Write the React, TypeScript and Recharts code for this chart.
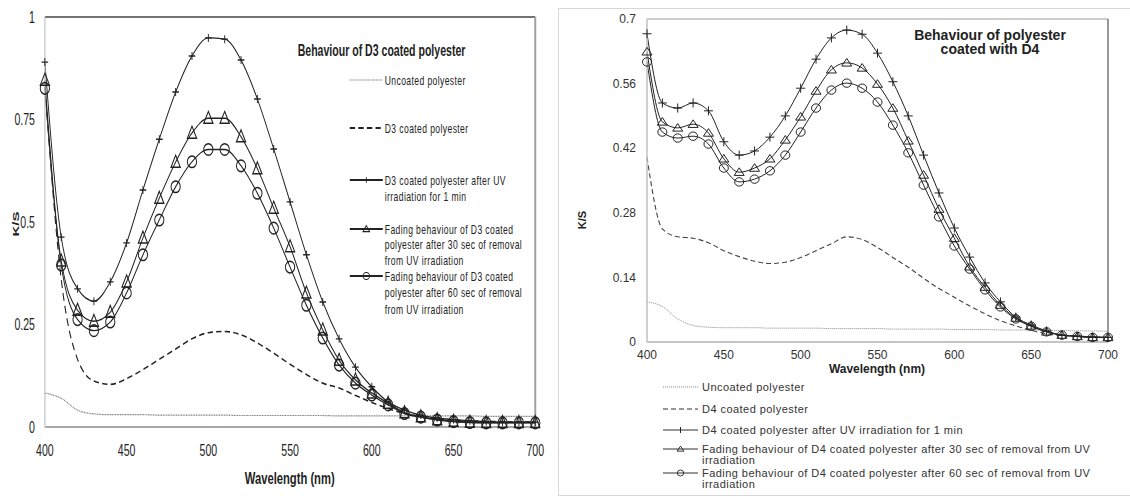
import React from 'react';
import { Line, LineChart, ReferenceLine, XAxis, YAxis } from 'recharts';

const WAVELENGTHS = [
  400, 410, 420, 430, 440, 450, 460, 470, 480, 490, 500, 510, 520, 530, 540, 550,
  560, 570, 580, 590, 600, 610, 620, 630, 640, 650, 660, 670, 680, 690, 700,
];
const X_TICKS = [400, 450, 500, 550, 600, 650, 700];
const D3_Y_TICKS = [0, 0.25, 0.5, 0.75, 1];
const D4_Y_TICKS = [0, 0.14, 0.28, 0.42, 0.56, 0.7];

// D3 coated polyester (left panel)
const d3Uncoated = [
  0.083, 0.07, 0.041, 0.032, 0.03, 0.03, 0.03, 0.029, 0.029, 0.029, 0.029, 0.029, 0.028, 0.028, 0.028, 0.028,
  0.028, 0.028, 0.027, 0.027, 0.027, 0.027, 0.027, 0.027, 0.027, 0.027, 0.027, 0.026, 0.026, 0.026, 0.026,
];
const d3Coated = [
  0.83, 0.36, 0.165, 0.112, 0.104, 0.118, 0.14, 0.165, 0.19, 0.215, 0.23, 0.233, 0.225, 0.205, 0.18, 0.153,
  0.128, 0.107, 0.095, 0.077, 0.06, 0.045, 0.033, 0.026, 0.02, 0.017, 0.015, 0.014, 0.013, 0.012, 0.012,
];
const d3Uv1min = [
  0.89, 0.463, 0.337, 0.307, 0.354, 0.449, 0.578, 0.702, 0.817, 0.905, 0.949, 0.946, 0.895, 0.8, 0.678, 0.549,
  0.42, 0.305, 0.215, 0.146, 0.098, 0.061, 0.041, 0.029, 0.022, 0.018, 0.015, 0.013, 0.012, 0.012, 0.012,
];
const d3Fade30 = [
  0.846, 0.405, 0.285, 0.258, 0.28, 0.354, 0.461, 0.558, 0.646, 0.717, 0.753, 0.753, 0.708, 0.63, 0.534, 0.44,
  0.327, 0.237, 0.163, 0.115, 0.083, 0.058, 0.035, 0.025, 0.018, 0.014, 0.012, 0.011, 0.011, 0.011, 0.011,
];
const d3Fade60 = [
  0.826, 0.395, 0.262, 0.235, 0.256, 0.327, 0.42, 0.505, 0.586, 0.647, 0.677, 0.677, 0.637, 0.57, 0.485, 0.39,
  0.297, 0.217, 0.151, 0.107, 0.078, 0.054, 0.033, 0.024, 0.017, 0.013, 0.011, 0.01, 0.01, 0.01, 0.01,
];

// polyester coated with D4 (right panel)
const d4Uncoated = [
  0.087, 0.077, 0.05, 0.036, 0.032, 0.031, 0.031, 0.031, 0.03, 0.03, 0.03, 0.03, 0.029, 0.029, 0.029, 0.029,
  0.028, 0.028, 0.028, 0.028, 0.027, 0.027, 0.027, 0.026, 0.026, 0.026, 0.025, 0.025, 0.024, 0.024, 0.023,
];
const d4Coated = [
  0.4, 0.245, 0.228, 0.225, 0.215, 0.198, 0.185, 0.175, 0.17, 0.173, 0.183, 0.198, 0.213, 0.228, 0.222, 0.205,
  0.183, 0.162, 0.138, 0.116, 0.097, 0.078, 0.061, 0.046, 0.035, 0.025, 0.018, 0.014, 0.012, 0.011, 0.01,
];
const d4Uv1min = [
  0.668, 0.518, 0.507, 0.518, 0.501, 0.434, 0.405, 0.414, 0.444, 0.49, 0.55, 0.613, 0.659, 0.676, 0.667, 0.626,
  0.564, 0.49, 0.405, 0.323, 0.247, 0.184, 0.128, 0.087, 0.054, 0.037, 0.024, 0.015, 0.013, 0.011, 0.01,
];
const d4Fade30 = [
  0.629, 0.477, 0.464, 0.472, 0.453, 0.397, 0.368, 0.377, 0.397, 0.438, 0.488, 0.544, 0.59, 0.605, 0.594, 0.559,
  0.507, 0.436, 0.362, 0.288, 0.225, 0.163, 0.119, 0.08, 0.052, 0.035, 0.022, 0.015, 0.012, 0.01, 0.01,
];
const d4Fade60 = [
  0.607, 0.455, 0.442, 0.446, 0.429, 0.377, 0.347, 0.353, 0.371, 0.405, 0.455, 0.507, 0.546, 0.561, 0.55, 0.52,
  0.47, 0.41, 0.34, 0.271, 0.208, 0.158, 0.113, 0.076, 0.05, 0.034, 0.022, 0.015, 0.012, 0.01, 0.01,
];

const d3Rows = WAVELENGTHS.map((nm, i) => ({
  nm,
  uncoated: d3Uncoated[i],
  coated: d3Coated[i],
  uv: d3Uv1min[i],
  fade30: d3Fade30[i],
  fade60: d3Fade60[i],
}));
const d4Rows = WAVELENGTHS.map((nm, i) => ({
  nm,
  uncoated: d4Uncoated[i],
  coated: d4Coated[i],
  uv: d4Uv1min[i],
  fade30: d4Fade30[i],
  fade60: d4Fade60[i],
}));

const FONT = "'Liberation Sans', Arial, sans-serif";
const INK = '#222';
// the left figure is a horizontally squeezed picture
const SQUEEZE = 0.66;

type DotProps = { cx?: number; cy?: number; index?: number };

// markers, w/h are half sizes
const plus = (w: number, h: number, sw: number) => (p: DotProps) => {
  const { cx, cy } = p;
  if (cx == null || cy == null) return <g key={`e${p.index}`} />;
  return (
    <path
      key={`p${p.index}`}
      d={`M${cx - w},${cy}H${cx + w}M${cx},${cy - h}V${cy + h}`}
      stroke={INK}
      strokeWidth={sw}
      fill="none"
    />
  );
};
const triangle = (w: number, h: number, sw: number) => (p: DotProps) => {
  const { cx, cy } = p;
  if (cx == null || cy == null) return <g key={`e${p.index}`} />;
  return (
    <path
      key={`t${p.index}`}
      d={`M${cx},${cy - h * 1.15}L${cx + w},${cy + h * 0.85}L${cx - w},${cy + h * 0.85}Z`}
      stroke={INK}
      strokeWidth={sw}
      fill="none"
    />
  );
};
const ring = (rx: number, ry: number, sw: number) => (p: DotProps) => {
  const { cx, cy } = p;
  if (cx == null || cy == null) return <g key={`e${p.index}`} />;
  return <ellipse key={`c${p.index}`} cx={cx} cy={cy} rx={rx} ry={ry} stroke={INK} strokeWidth={sw} fill="none" />;
};

function D3Panel() {
  const W = 848;
  const lx1 = 530;
  const lx2 = 580;
  const lm = (lx1 + lx2) / 2;
  const tx = 583;
  const fs = 13;
  const rowText = (lines: string[], y0: number, step: number) =>
    lines.map((t, i) => (
      <text key={t} x={tx} y={y0 + i * step + fs * 0.35} fontSize={fs} letterSpacing={0.6} fill={INK}>
        {t}
      </text>
    ));
  return (
    <div
      style={{
        position: 'absolute',
        left: 0,
        top: 0,
        width: W,
        height: 496,
        transform: `scaleX(${SQUEEZE})`,
        transformOrigin: '0 0',
        fontFamily: FONT,
      }}
    >
      <LineChart width={W} height={496} data={d3Rows} margin={{ top: 17, right: 37, left: 8, bottom: 29 }}>
        <XAxis
          dataKey="nm"
          type="number"
          domain={[400, 700]}
          ticks={X_TICKS}
          tickLine={false}
          axisLine={{ stroke: '#a8a8a8', strokeWidth: 2 }}
          tick={{ fontSize: 16, fill: INK }}
          tickMargin={12}
          height={40}
        />
        <YAxis
          type="number"
          domain={[0, 1]}
          ticks={D3_Y_TICKS}
          tickLine={false}
          axisLine={{ stroke: '#c8c8c8', strokeWidth: 2 }}
          tick={{ fontSize: 16, fill: INK }}
          tickMargin={9}
          width={60}
        />
        <ReferenceLine y={1} stroke="#444" strokeWidth={1.5} />
        <ReferenceLine x={700} stroke="#a0a0a0" strokeWidth={3} />
        <Line dataKey="uncoated" type="monotone" stroke="#777" strokeWidth={1.2} strokeDasharray="1.5 1" dot={false} isAnimationActive={false} />
        <Line dataKey="coated" type="monotone" stroke={INK} strokeWidth={1.6} strokeDasharray="8 5" dot={false} isAnimationActive={false} />
        <Line dataKey="uv" type="monotone" stroke={INK} strokeWidth={1.4} dot={plus(5, 4, 1.4)} isAnimationActive={false} />
        <Line dataKey="fade30" type="monotone" stroke={INK} strokeWidth={1.4} dot={triangle(7, 6, 1.5)} isAnimationActive={false} />
        <Line dataKey="fade60" type="monotone" stroke={INK} strokeWidth={1.4} dot={ring(7, 5.8, 1.5)} isAnimationActive={false} />
      </LineChart>
      <svg width={W} height={496} style={{ position: 'absolute', left: 0, top: 0, pointerEvents: 'none' }}>
        <text x={451} y={50 + 16 * 0.35} fontSize={16} fontWeight="bold" fill={INK}>
          Behaviour of D3 coated polyester
        </text>
        <line x1={lx1} x2={lx2} y1={80} y2={80} stroke="#777" strokeWidth={1.2} strokeDasharray="1.5 1" />
        {rowText(['Uncoated polyester'], 80, 16)}
        <line x1={lx1} x2={lx2} y1={128} y2={128} stroke={INK} strokeWidth={2.2} strokeDasharray="8 5" />
        {rowText(['D3 coated polyester'], 128, 16)}
        <line x1={lx1} x2={lx2} y1={180} y2={180} stroke={INK} strokeWidth={2.2} />
        {plus(4, 3, 1.2)({ cx: lm, cy: 180, index: 0 })}
        {rowText(['D3 coated polyester after UV', 'irradiation for 1 min'], 180, 16)}
        <line x1={lx1} x2={lx2} y1={229} y2={229} stroke={INK} strokeWidth={2.2} />
        {triangle(5, 3, 1.2)({ cx: lm, cy: 229, index: 0 })}
        {rowText(['Fading behaviour of D3 coated', 'polyester after 30 sec of removal', 'from UV irradiation'], 229, 15.5)}
        <line x1={lx1} x2={lx2} y1={276} y2={276} stroke={INK} strokeWidth={2.2} />
        {ring(5, 3.5, 1.2)({ cx: lm, cy: 276, index: 0 })}
        {rowText(['Fading behaviour of D3 coated', 'polyester after 60 sec of removal', 'from UV irradiation'], 276, 16.5)}
        <text x={439} y={478 + 17 * 0.35} fontSize={17} fontWeight="bold" fill={INK} textAnchor="middle">
          Wavelength (nm)
        </text>
        <text transform="translate(23,224) rotate(-90)" fontSize={15} fontWeight="bold" fill={INK} textAnchor="middle" dy="0.35em">
          K/S
        </text>
      </svg>
    </div>
  );
}

function D4Panel() {
  const left = 577;
  const lx1 = 663;
  const lx2 = 698;
  const lm = (lx1 + lx2) / 2;
  const tx = 702;
  const fs = 11;
  const rows: { lines: string[]; y: number; kind: string }[] = [
    { lines: ['Uncoated polyester'], y: 387, kind: 'dot' },
    { lines: ['D4 coated polyester'], y: 409, kind: 'dash' },
    { lines: ['D4 coated polyester after UV irradiation for 1 min'], y: 430, kind: 'plus' },
    { lines: ['Fading behaviour of D4 coated polyester after 30 sec of removal from UV', 'irradiation'], y: 449, kind: 'tri' },
    { lines: ['Fading behaviour of D4 coated polyester after 60 sec of removal from UV', 'irradiation'], y: 473, kind: 'ring' },
  ];
  return (
    <>
      <div
        style={{
          position: 'absolute',
          left: 558,
          top: 8,
          width: 600,
          height: 486,
          border: '1px solid #d8d8d8',
        }}
      />
      <div style={{ position: 'absolute', left, top: 0, width: 553, height: 496, fontFamily: FONT }}>
        <LineChart width={553} height={496} data={d4Rows} margin={{ top: 19, right: 22, left: 10, bottom: 124 }}>
          <XAxis
            dataKey="nm"
            type="number"
            domain={[400, 700]}
            ticks={X_TICKS}
            tickLine={false}
            axisLine={{ stroke: '#b0b0b0', strokeWidth: 1.5 }}
            tick={{ fontSize: 12, fill: '#333' }}
            height={30}
          />
          <YAxis
            type="number"
            domain={[0, 0.7]}
            ticks={D4_Y_TICKS}
            tickLine={false}
            axisLine={{ stroke: '#c0c0c0', strokeWidth: 1.5 }}
            tick={{ fontSize: 12, fill: '#333' }}
            tickMargin={5}
            width={60}
          />
          <ReferenceLine y={0.7} stroke="#bbb" strokeWidth={1.5} />
          <ReferenceLine x={700} stroke="#555" strokeWidth={1.2} />
          <Line dataKey="uncoated" type="monotone" stroke="#888" strokeWidth={1} strokeDasharray="1 1" dot={false} isAnimationActive={false} />
          <Line dataKey="coated" type="monotone" stroke="#444" strokeWidth={1.1} strokeDasharray="5 3" dot={false} isAnimationActive={false} />
          <Line dataKey="uv" type="monotone" stroke={INK} strokeWidth={1} dot={plus(4.5, 4.5, 1)} isAnimationActive={false} />
          <Line dataKey="fade30" type="monotone" stroke={INK} strokeWidth={1} dot={triangle(5, 3.8, 1)} isAnimationActive={false} />
          <Line dataKey="fade60" type="monotone" stroke={INK} strokeWidth={1} dot={ring(4.5, 4.2, 1)} isAnimationActive={false} />
        </LineChart>
      </div>
      <svg width={1130} height={496} style={{ position: 'absolute', left: 0, top: 0, pointerEvents: 'none', fontFamily: FONT }}>
        <text x={990} y={35 + 14 * 0.35} fontSize={14} fontWeight="bold" fill={INK} textAnchor="middle">
          Behaviour of polyester
        </text>
        <text x={990} y={49 + 14 * 0.35} fontSize={14} fontWeight="bold" fill={INK} textAnchor="middle">
          coated with D4
        </text>
        <text x={877} y={369 + 12 * 0.35} fontSize={12} fontWeight="bold" fill={INK} textAnchor="middle">
          Wavelength (nm)
        </text>
        <text transform="translate(582,220) rotate(-90)" fontSize={11} fontWeight="bold" fill={INK} textAnchor="middle" dy="0.35em">
          K/S
        </text>
        {rows.map((r) => (
          <g key={r.y}>
            <line
              x1={lx1}
              x2={lx2}
              y1={r.y}
              y2={r.y}
              stroke={r.kind === 'dot' ? '#888' : '#333'}
              strokeWidth={r.kind === 'dot' ? 1 : 1.2}
              strokeDasharray={r.kind === 'dot' ? '1 1' : r.kind === 'dash' ? '5 3' : undefined}
            />
            {r.kind === 'plus' && plus(0.1, 3, 1)({ cx: lm, cy: r.y, index: 0 })}
            {r.kind === 'tri' && triangle(3.5, 2.5, 0.9)({ cx: lm, cy: r.y, index: 0 })}
            {r.kind === 'ring' && ring(3.2, 3, 0.9)({ cx: lm, cy: r.y, index: 0 })}
            {r.lines.map((t, i) => (
              <text key={t} x={tx} y={r.y + i * 11.5 + fs * 0.35} fontSize={fs} letterSpacing={0.45} fill="#333">
                {t}
              </text>
            ))}
          </g>
        ))}
      </svg>
    </>
  );
}

export default function App() {
  return (
    <div
      style={{
        position: 'absolute',
        left: 0,
        top: 0,
        width: 1130,
        height: 496,
        overflow: 'hidden',
        background: '#fff',
      }}
    >
      <D3Panel />
      <D4Panel />
    </div>
  );
}
